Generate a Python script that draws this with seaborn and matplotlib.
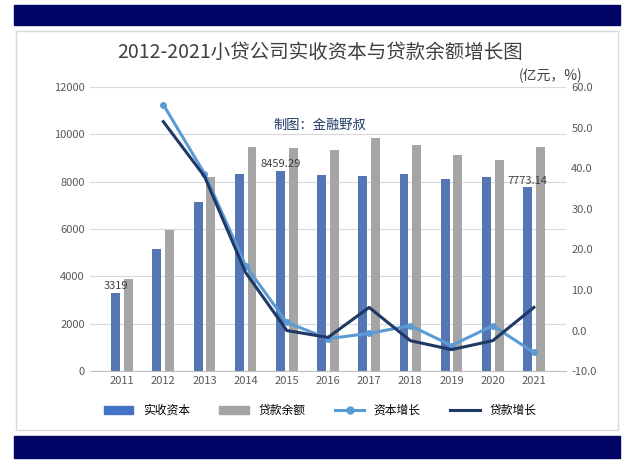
import numpy as np
import pandas as pd
import matplotlib.pyplot as plt
import seaborn as sns
from matplotlib.patches import Patch, Rectangle
from matplotlib.lines import Line2D

plt.rcParams['font.family'] = ['Noto Sans CJK SC', 'DejaVu Sans']

years = ['2011', '2012', '2013', '2014', '2015', '2016', '2017', '2018', '2019', '2020', '2021']
capital = [3319, 5160, 7145, 8330, 8459.29, 8300, 8250, 8350, 8100, 8200, 7773.14]
loans = [3890, 5960, 8200, 9470, 9420, 9340, 9850, 9550, 9130, 8920, 9470]
capital_growth = [np.nan, 55.7, 38.7, 16.0, 2.0, -2.0, -0.7, 1.2, -3.7, 1.2, -5.4]
loan_growth = [np.nan, 51.5, 38.0, 14.3, 0.0, -1.7, 5.7, -2.5, -4.7, -2.5, 5.7]

BLUE = '#4472c4'
GRAY = '#a5a5a5'
LIGHT = '#5b9bd5'
NAVY = '#1f3864'
BAND = '#000566'

df = pd.DataFrame({'年份': years * 2,
                   '值': capital + loans,
                   '系列': ['实收资本'] * len(years) + ['贷款余额'] * len(years)})

fig = plt.figure(figsize=(6.4, 4.61), dpi=100)
# navy bands top and bottom, light frame around the chart
fig.patches.append(Rectangle((0.022, 0.946), 0.947, 0.043, transform=fig.transFigure, color=BAND))
fig.patches.append(Rectangle((0.022, 0.007), 0.947, 0.047, transform=fig.transFigure, color=BAND))
fig.patches.append(Rectangle((0.025, 0.067), 0.94, 0.866, transform=fig.transFigure,
                             fill=False, edgecolor='#d9d9d9', lw=1))

ax = fig.add_axes([0.14, 0.195, 0.745, 0.616])
sns.barplot(data=df, x='年份', y='值', hue='系列', palette=[BLUE, GRAY],
            width=0.62, gap=0.3, ax=ax, legend=False)
ax.set_ylim(0, 12000)
ax.set_yticks(range(0, 12001, 2000))
ax.set_xlabel('')
ax.set_ylabel('')
ax.grid(axis='y', color='#d9d9d9', lw=0.8)
ax.set_axisbelow(True)
for s in ['top', 'right', 'left']:
    ax.spines[s].set_visible(False)
ax.spines['bottom'].set_color('#bfbfbf')
ax.tick_params(length=0, labelsize=8, colors='#595959')

ax.text(0 - 0.15, capital[0] + 150, '3319', ha='center', fontsize=8, color='#404040')
ax.text(4 - 0.15, capital[4] + 150, '8459.29', ha='center', fontsize=8, color='#404040')
ax.text(10 - 0.15, capital[10] + 150, '7773.14', ha='center', fontsize=8, color='#404040')

ax2 = ax.twinx()
x = np.arange(len(years))
sns.lineplot(x=x, y=capital_growth, color=LIGHT, lw=2.2, marker='o', markersize=5,
             markeredgewidth=0, ax=ax2, label='资本增长')
sns.lineplot(x=x, y=loan_growth, color=NAVY, lw=2.2, ax=ax2, label='贷款增长')
ax2.set_ylim(-10, 60)
ax2.set_yticks(range(-10, 61, 10))
ax2.set_yticklabels([f'{v:.1f}' for v in range(-10, 61, 10)])
ax2.tick_params(length=0, labelsize=8, colors='#595959')
for s in ax2.spines.values():
    s.set_visible(False)
ax2.get_legend().remove()

fig.text(0.5, 0.875, '2012-2021小贷公司实收资本与贷款余额增长图', ha='center', fontsize=14, color='#404040')
fig.text(0.86, 0.825, '(亿元，%)', ha='center', fontsize=10, color='#404040')
fig.text(0.5, 0.72, '制图：金融野叔', ha='center', fontsize=9.5, color=NAVY)

handles = [Patch(color=BLUE), Patch(color=GRAY),
           Line2D([], [], color=LIGHT, lw=2.2, marker='o', markersize=5),
           Line2D([], [], color=NAVY, lw=2.2)]
fig.legend(handles, ['实收资本', '贷款余额', '资本增长', '贷款增长'], loc='center',
           bbox_to_anchor=(0.5, 0.11), ncol=4, frameon=False, fontsize=8.5,
           handlelength=2.5, columnspacing=2.5)

fig.savefig('out.png', dpi=100)
